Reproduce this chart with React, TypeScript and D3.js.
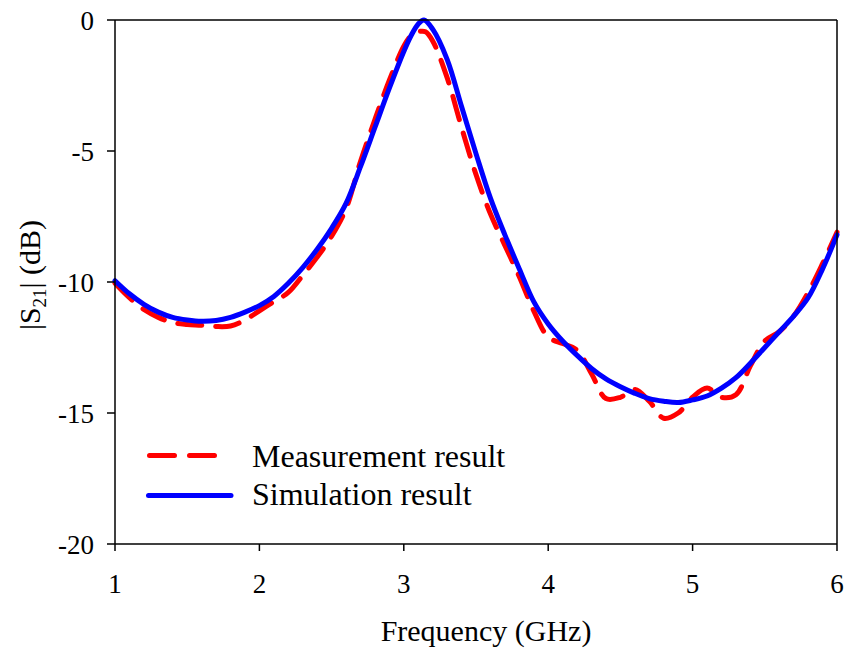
import React from "react";
import * as d3 from "d3";

const freqSim = [1.0,1.1,1.2,1.3,1.4,1.5,1.6,1.7,1.8,1.9,2.0,2.1,2.2,2.3,2.4,2.5,2.6,2.7,2.8,2.9,3.0,3.05,3.1,3.14,3.2,3.3,3.4,3.5,3.6,3.7,3.8,3.9,4.0,4.1,4.2,4.3,4.4,4.5,4.6,4.7,4.8,4.9,5.0,5.1,5.2,5.3,5.4,5.5,5.6,5.7,5.8,5.9,6.0];
const simDb = [-9.95,-10.45,-10.85,-11.15,-11.35,-11.45,-11.5,-11.47,-11.35,-11.15,-10.9,-10.55,-10.05,-9.45,-8.75,-7.95,-7.0,-5.6,-4.1,-2.6,-1.2,-0.6,-0.15,0,-0.35,-1.5,-3.3,-5.1,-6.8,-8.2,-9.5,-10.75,-11.6,-12.25,-12.8,-13.3,-13.7,-14.0,-14.25,-14.45,-14.55,-14.6,-14.5,-14.35,-14.05,-13.65,-13.1,-12.5,-11.9,-11.3,-10.6,-9.5,-8.2];

const freqMeas = [1.0,1.1,1.2,1.3,1.4,1.5,1.6,1.7,1.8,1.9,2.0,2.1,2.2,2.3,2.4,2.5,2.6,2.7,2.8,2.9,3.0,3.05,3.1,3.15,3.2,3.3,3.4,3.5,3.6,3.7,3.8,3.9,4.0,4.1,4.2,4.3,4.4,4.5,4.6,4.7,4.8,4.9,5.0,5.1,5.2,5.3,5.4,5.5,5.6,5.7,5.8,5.9,6.0];
const measDb = [-10.05,-10.6,-11.05,-11.35,-11.55,-11.62,-11.65,-11.7,-11.68,-11.45,-11.1,-10.75,-10.4,-9.75,-9.05,-8.25,-7.2,-5.4,-3.8,-2.3,-1.0,-0.6,-0.45,-0.45,-0.8,-2.2,-4.1,-5.9,-7.4,-8.6,-9.8,-11.1,-12.1,-12.35,-12.6,-13.5,-14.45,-14.4,-14.1,-14.55,-15.2,-15.0,-14.4,-14.05,-14.4,-14.3,-13.2,-12.25,-11.9,-11.3,-10.4,-9.3,-8.1];

const xTicks = [1, 2, 3, 4, 5, 6];
const yTicks = [0, -5, -10, -15, -20];
const legendLabels = ["Measurement result", "Simulation result"];

const W = 849, H = 655;
const FONT = "'Liberation Serif', 'Times New Roman', serif";

export default function App() {
  const x = d3.scaleLinear().domain([1, 6]).range([115, 837]);
  const y = d3.scaleLinear().domain([-20, 0]).range([544, 20]);

  const line = d3.line<[number, number]>()
    .x(d => x(d[0]))
    .y(d => y(d[1]))
    .curve(d3.curveCatmullRom.alpha(0.5));

  const simPts = freqSim.map((f, i) => [f, simDb[i]] as [number, number]);
  const measPts = freqMeas.map((f, i) => [f, measDb[i]] as [number, number]);

  const [x0, x1] = x.range();
  const [yb, yt] = y.range();

  return (
    <svg width={W} height={H} style={{ position: "absolute", left: 0, top: 0, background: "#fff" }} fontFamily={FONT}>
      <rect x={0} y={0} width={W} height={H} fill="#fff" />
      {/* curves */}
      <path d={line(measPts) || ""} fill="none" stroke="#ff0000" strokeWidth={5} strokeDasharray="24 14" strokeLinecap="round" />
      <path d={line(simPts) || ""} fill="none" stroke="#0000ff" strokeWidth={5} strokeLinecap="round" />

      {/* frame */}
      <g stroke="#000" strokeWidth={1.5} fill="none">
        <line x1={x0} y1={yt} x2={x1} y2={yt} />
        <line x1={x1} y1={yt} x2={x1} y2={yb} />
        <line x1={x0} y1={yt} x2={x0} y2={yb} />
        <line x1={x0} y1={yb} x2={x1} y2={yb} />
        {xTicks.map(t => (
          <line key={"xt" + t} x1={x(t)} x2={x(t)} y1={yb} y2={yb + 7} />
        ))}
        {yTicks.map(t => (
          <line key={"yt" + t} x1={x0 - 8} x2={x0} y1={y(t)} y2={y(t)} />
        ))}
      </g>

      {/* tick labels */}
      {xTicks.map(t => (
        <text key={"xl" + t} x={x(t)} y={593} textAnchor="middle" fontSize={27} fill="#000">{t}</text>
      ))}
      {yTicks.map(t => (
        <text key={"yl" + t} x={94} y={y(t) + 10} textAnchor="end" fontSize={27} fill="#000">{t}</text>
      ))}

      {/* axis titles */}
      <text x={486} y={641} textAnchor="middle" fontSize={30} fill="#000">Frequency (GHz)</text>
      <text transform={`translate(40,275) rotate(-90)`} textAnchor="middle" fontSize={30} fill="#000">
        |S<tspan fontSize={19} dy={6}>21</tspan><tspan dy={-6}>| (dB)</tspan>
      </text>

      {/* legend */}
      <line x1={149.5} x2={216} y1={455.5} y2={455.5} stroke="#ff0000" strokeWidth={5} strokeDasharray="25 15" strokeLinecap="round" />
      <text x={252} y={467} fontSize={32} fill="#000">{legendLabels[0]}</text>
      <line x1={148.5} x2={231} y1={495.5} y2={495.5} stroke="#0000ff" strokeWidth={5} strokeLinecap="round" />
      <text x={252} y={505} fontSize={32} fill="#000">{legendLabels[1]}</text>
    </svg>
  );
}
